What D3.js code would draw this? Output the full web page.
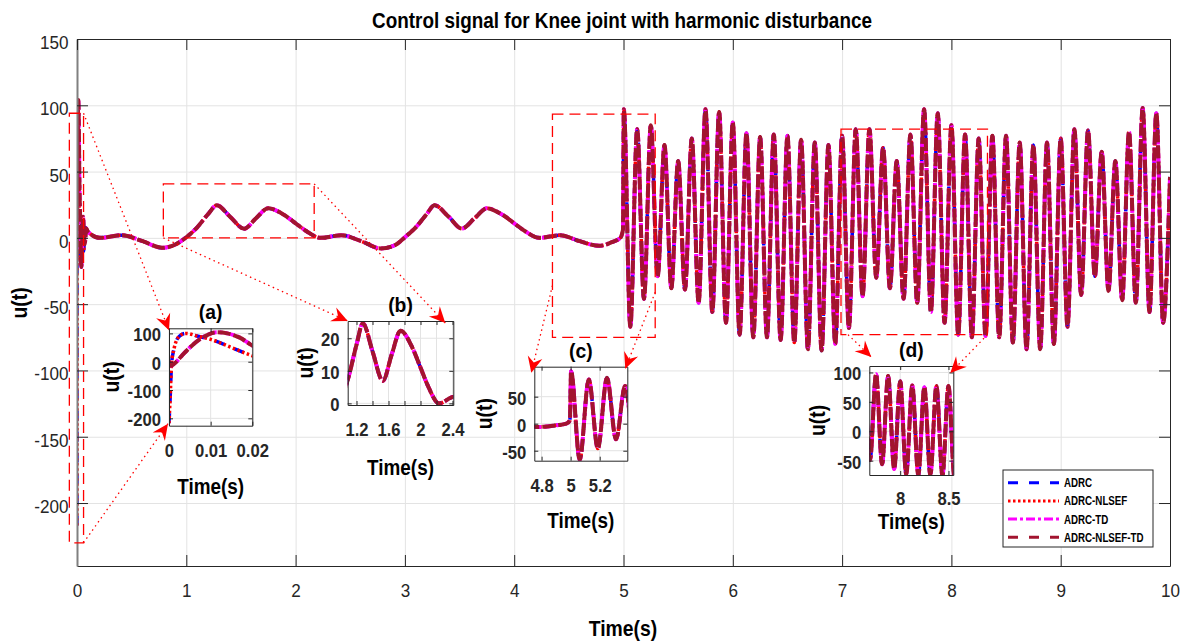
<!DOCTYPE html>
<html>
<head>
<meta charset="utf-8">
<script src="https://cdn.jsdelivr.net/npm/d3@7"></script>
<style>
  body { margin: 0; background: #fff; }
  svg { display: block; font-family: "Liberation Sans", Arial, Helvetica, sans-serif; }
</style>
</head>
<body>
<svg id="chart" width="1183" height="644"></svg>
<script>
// ---------- values ----------
const seriesNames = ["ADRC", "ADRC-NLSEF", "ADRC-TD", "ADRC-NLSEF-TD"];

// start-up transient, ADRC and ADRC-NLSEF (the two overlap)
const tStartA = [0, 0.0003, 0.0006, 0.0012, 0.0025, 0.004, 0.007, 0.01, 0.0155, 0.02, 0.03, 0.045, 0.06, 0.075, 0.1];
const uStartA = [-217, -120, -10, 45, 90, 100, 90, 79, 47, 21, -18, 15, -10, 8, 4.7];

// start-up transient, ADRC-TD and ADRC-NLSEF-TD
const tStartTD = [0, 0.0005, 0.0012, 0.003, 0.005, 0.008, 0.0115, 0.014, 0.017, 0.02, 0.03, 0.04, 0.055, 0.07, 0.085, 0.1];
const uStartTD = [3, -14, -8, 20, 50, 85, 104, 100, 85, 57, 10, -22, 16, -5, 7, 4.7];

// slow part, shared by all four controllers
const tSlow = [0.21, 0.41, 0.6, 0.78, 0.9, 1.0, 1.1, 1.2, 1.28, 1.4, 1.53, 1.64, 1.75, 1.9, 2.0, 2.1, 2.23,
               2.42, 2.6, 2.78, 2.92, 3.0, 3.1, 3.2, 3.27, 3.4, 3.52, 3.64, 3.75, 3.9, 4.0, 4.1, 4.23,
               4.42, 4.6, 4.78, 4.9, 4.97, 4.995];
const uSlow = [0, 2, -2.5, -7.5, -5, 0.5, 8, 18, 24.6, 16, 6.9, 15, 22.3, 17, 11, 5, 0,
               2, -2.5, -8, -5, 0.5, 8, 18, 24.6, 16, 7, 15, 22.3, 17, 11, 5, 0,
               2, -2.5, -6, -3, 0, 6];

// fast oscillation after t = 5 s (peaks and troughs)
const tFast = [5.003, 5.0625, 5.125, 5.1875, 5.25, 5.3125, 5.375, 5.4375, 5.5, 5.5625, 5.625, 5.6875, 5.75, 5.8125, 5.875, 5.9375, 6.0,
               6.0625, 6.125, 6.1875, 6.25, 6.3125, 6.375, 6.4375, 6.5, 6.5625, 6.625, 6.6875, 6.75, 6.8125, 6.875, 6.9375, 7.0,
               7.0625, 7.125, 7.1875, 7.25, 7.3125, 7.375, 7.4375, 7.5, 7.5625, 7.625, 7.6875, 7.75, 7.8125, 7.875, 7.9375, 8.0,
               8.0625, 8.125, 8.1875, 8.25, 8.3125, 8.375, 8.4375, 8.5, 8.5625, 8.625, 8.6875, 8.75, 8.8125, 8.875, 8.9375, 9.0,
               9.0625, 9.125, 9.1875, 9.25, 9.3125, 9.375, 9.4375, 9.5, 9.5625, 9.625, 9.6875, 9.75, 9.8125, 9.875, 9.9375, 10.0];
const uFast = [97, -67, 82, -46, 85, -29, 70, -38, 58, -39, 75, -49, 97, -56, 95, -64, 87,
               -73, 79, -75, 76, -75, 78, -77, 77, -79, 74, -84, 72, -85, 70, -80, 77,
               -68, 82, -44, 82, -30, 68, -38, 58, -46, 78, -49, 97, -56, 94, -64, 85,
               -73, 78, -75, 75, -74, 77, -75, 77, -79, 72, -84, 70, -84, 72, -80, 75,
               -67, 82, -43, 81, -29, 65, -40, 58, -47, 80, -49, 98, -56, 94, -64, 46];

// axis ticks
const xTicks = [0, 1, 2, 3, 4, 5, 6, 7, 8, 9, 10];
const yTicks = [-200, -150, -100, -50, 0, 50, 100, 150];
const ticksAx = [0, 0.01, 0.02], ticksAy = [-200, -100, 0, 100];
const ticksBx = [1.2, 1.4, 1.6, 1.8, 2, 2.2, 2.4], labelsBx = [1.2, 1.6, 2, 2.4], ticksBy = [0, 10, 20];
const ticksCx = [4.8, 5, 5.2], ticksCy = [-50, 0, 50];
const ticksDx = [8, 8.5], ticksDy = [-50, 0, 50, 100];

// zoom boxes drawn on the main axes [t0, t1, u0, u1]
const zoomBoxA = [-0.07, 0.06, -230, 94];
const zoomBoxB = [0.79, 2.17, 0, 40.7];
const zoomBoxC = [4.35, 5.29, -75, 93.4];
const zoomBoxD = [6.99, 8.33, -73, 82];

// ---------- build series ----------
const famA = d3.zip([...tStartA, ...tSlow, ...tFast], [...uStartA, ...uSlow, ...uFast]);
const famTD = d3.zip([...tStartTD, ...tSlow, ...tFast], [...uStartTD, ...uSlow, ...uFast]);
const seriesData = [famA, famA, famTD, famTD];
const seriesStyle = [
    {color: "#0000ff", dash: "10,11", w: 3.5},
    {color: "#ff0000", dash: "2.5,2.5", w: 3.5},
    {color: "#ff00ff", dash: "9,3,3,3", w: 4},
    {color: "#a2142f", dash: "13,3", w: 4}
];

const svg = d3.select("#chart");
const W = 1183, H = 644;
const margin = {top: 39, right: 13, bottom: 78, left: 77};
const x = d3.scaleLinear().domain([0, 10]).range([margin.left, W - margin.right]);
const y = d3.scaleLinear().domain([-247.5, 150]).range([H - margin.bottom, margin.top]);
const AX = "#262626";

function addText(g, str, px, py, o) {
    return g.append("text")
        .attr("transform", `translate(${px},${py})` + (o.rotate ? ` rotate(${o.rotate})` : "") + ` scale(${o.sx || 1},1)`)
        .attr("text-anchor", o.anchor || "middle")
        .style("font-size", o.size + "px")
        .style("font-weight", o.bold ? "bold" : "normal")
        .attr("fill", o.fill || "#000")
        .text(str);
}

function drawCurves(g, sx, sy, clipId) {
    const line = d3.line().x(d => sx(d[0])).y(d => sy(d[1])).curve(d3.curveMonotoneX);
    g.append("g")
        .attr("clip-path", `url(#${clipId})`)
        .selectAll("path")
        .data(seriesData)
        .join("path")
        .attr("fill", "none")
        .attr("stroke", (d, i) => seriesStyle[i].color)
        .attr("stroke-width", (d, i) => seriesStyle[i].w)
        .attr("stroke-dasharray", (d, i) => seriesStyle[i].dash)
        .attr("d", line);
}

const defs = svg.append("defs");
defs.append("clipPath").attr("id", "clipMain")
    .append("rect")
    .attr("x", x(0)).attr("y", y(150))
    .attr("width", x(10) - x(0)).attr("height", y(-247.5) - y(150));

defs.append("marker")
    .attr("id", "arrow")
    .attr("viewBox", "-18 -9 20 18")
    .attr("refX", 0).attr("refY", 0)
    .attr("markerWidth", 20).attr("markerHeight", 18)
    .attr("markerUnits", "userSpaceOnUse")
    .attr("orient", "auto")
    .append("path")
    .attr("d", "M0,0 L-16,-7.5 L-10.5,0 L-16,7.5 Z")
    .attr("fill", "#ff0000");

// ---------- main axes ----------
const plotH = y.range()[0] - y.range()[1];
const plotW = x.range()[1] - x.range()[0];

svg.append("g")
    .attr("transform", `translate(0,${y.range()[0]})`)
    .call(d3.axisBottom(x).tickValues(xTicks).tickSize(-plotH).tickFormat(""))
    .call(g => g.select(".domain").remove())
    .selectAll("line").attr("stroke", "#e3e3e3");

svg.append("g")
    .attr("transform", `translate(${x.range()[0]},0)`)
    .call(d3.axisLeft(y).tickValues(yTicks).tickSize(-plotW).tickFormat(""))
    .call(g => g.select(".domain").remove())
    .selectAll("line").attr("stroke", "#e3e3e3");

drawCurves(svg, x, y, "clipMain");

const bottomAxis = svg.append("g")
    .attr("transform", `translate(0,${y.range()[0]})`)
    .call(d3.axisBottom(x).tickValues(xTicks).tickSize(-11).tickSizeOuter(0).tickPadding(18).tickFormat(d => String(d)));
const leftAxis = svg.append("g")
    .attr("transform", `translate(${x.range()[0]},0)`)
    .call(d3.axisLeft(y).tickValues(yTicks).tickSize(-11).tickSizeOuter(0).tickPadding(9.5).tickFormat(d => String(d)));
svg.append("g")
    .attr("transform", `translate(0,${y.range()[1]})`)
    .call(d3.axisTop(x).tickValues(xTicks).tickSize(-11).tickSizeOuter(0).tickFormat(""));
svg.append("g")
    .attr("transform", `translate(${x.range()[1]},0)`)
    .call(d3.axisRight(y).tickValues(yTicks).tickSize(-11).tickSizeOuter(0).tickFormat(""));

svg.selectAll(".tick line").filter(function () { return d3.select(this).attr("stroke") !== "#e3e3e3"; })
    .attr("stroke", AX);
svg.selectAll(".domain").attr("stroke", AX);
leftAxis.select(".domain").attr("stroke", "#808080").attr("stroke-width", 2);

[bottomAxis, leftAxis].forEach(a => a.selectAll("text")
    .attr("fill", AX)
    .attr("transform", "scale(0.9,1)")
    .style("font-size", "19px")
    .style("font-family", "'Liberation Sans', Arial, sans-serif"));
leftAxis.selectAll("text").attr("dy", "0.5em");

// ---------- zoom rectangles ----------
const zoomBoxes = [zoomBoxA, zoomBoxB, zoomBoxC, zoomBoxD];
svg.append("g")
    .selectAll("rect")
    .data(zoomBoxes)
    .join("rect")
    .attr("x", d => x(d[0]))
    .attr("y", d => y(d[3]))
    .attr("width", d => x(d[1]) - x(d[0]))
    .attr("height", d => y(d[2]) - y(d[3]))
    .attr("fill", "none")
    .attr("stroke", "#ff0000")
    .attr("stroke-width", 1.3)
    .attr("stroke-dasharray", "11,6");

// ---------- insets ----------
const insets = [
    {key: "a", box: [169, 328.3, 252.3, 425.7], xd: [0, 0.02], yd: [-226, 118],
        xt: ticksAx, xl: ticksAx, yt: ticksAy, ylab: -50, xtY: 31, xlabY: 68},
    {key: "b", box: [347.7, 321, 453.3, 405], xd: [1.09, 2.41], yd: [-0.5, 25.3],
        xt: ticksBx, xl: labelsBx, yt: ticksBy, ylab: -35, xtY: 31, xlabY: 70},
    {key: "c", box: [534.3, 366.7, 627.3, 460.7], xd: [4.75, 5.39], yd: [-68.5, 105.5],
        xt: ticksCx, xl: ticksCx, yt: ticksCy, ylab: -42, xtY: 31, xlabY: 67},
    {key: "d", box: [869.3, 366, 953.3, 475], xd: [7.68, 8.55], yd: [-74.4, 111],
        xt: ticksDx, xl: ticksDx, yt: ticksDy, ylab: -44, xtY: 30, xlabY: 54}
];

insets.forEach(c => {
    const [bx0, by0, bx1, by1] = c.box;
    const sx = d3.scaleLinear().domain(c.xd).range([bx0, bx1]);
    const sy = d3.scaleLinear().domain(c.yd).range([by1, by0]);
    const g = svg.append("g").attr("class", "inset-" + c.key);
    const clipId = "clip-" + c.key;
    defs.append("clipPath").attr("id", clipId)
        .append("rect").attr("x", bx0).attr("y", by0).attr("width", bx1 - bx0).attr("height", by1 - by0);

    g.append("rect").attr("x", bx0).attr("y", by0).attr("width", bx1 - bx0).attr("height", by1 - by0)
        .attr("fill", "#fff");

    g.append("g").selectAll("line").data(c.xt).join("line")
        .attr("x1", d => sx(d)).attr("x2", d => sx(d)).attr("y1", by0).attr("y2", by1)
        .attr("stroke", "#e3e3e3");
    g.append("g").selectAll("line").data(c.yt).join("line")
        .attr("x1", bx0).attr("x2", bx1).attr("y1", d => sy(d)).attr("y2", d => sy(d))
        .attr("stroke", "#e3e3e3");

    drawCurves(g, sx, sy, clipId);

    const fmtX = d => c.xl.some(v => Math.abs(v - d) < 1e-9) ? String(d) : "";
    const ab = g.append("g").attr("transform", `translate(0,${by1})`)
        .call(d3.axisBottom(sx).tickValues(c.xt).tickSize(-4).tickSizeOuter(0).tickPadding(c.xtY - 13).tickFormat(fmtX));
    const al = g.append("g").attr("transform", `translate(${bx0},0)`)
        .call(d3.axisLeft(sy).tickValues(c.yt).tickSize(-4).tickSizeOuter(0).tickPadding(9).tickFormat(d => String(d)));
    g.append("g").attr("transform", `translate(0,${by0})`)
        .call(d3.axisTop(sx).tickValues(c.xt).tickSize(-4).tickSizeOuter(0).tickFormat(""));
    g.append("g").attr("transform", `translate(${bx1},0)`)
        .call(d3.axisRight(sy).tickValues(c.yt).tickSize(-4).tickSizeOuter(0).tickFormat(""));
    g.selectAll(".domain").attr("stroke", AX);
    g.selectAll(".tick line").attr("stroke", AX);
    [ab, al].forEach(a => a.selectAll("text")
        .attr("fill", AX)
        .attr("transform", "scale(0.9,1)")
        .style("font-size", "18.5px")
        .style("font-weight", "bold")
        .style("font-family", "'Liberation Sans', Arial, sans-serif"));
    al.selectAll("text").attr("dy", "0.4em");

    const cx = (bx0 + bx1) / 2;
    addText(g, `(${c.key})`, cx, by0 - 9, {size: 21, bold: true, sx: 0.92});
    addText(g, "Time(s)", cx, by1 + c.xlabY, {size: 22, bold: true, sx: 0.86});
    addText(g, "u(t)", bx0 + c.ylab, (by0 + by1) / 2, {size: 22, bold: true, sx: 0.88, rotate: -90});
});

// ---------- connectors with arrows ----------
const ins = Object.fromEntries(insets.map(c => [c.key, c.box]));
const connectors = [
    [[x(zoomBoxA[1]), y(zoomBoxA[3])], [ins.a[0], ins.a[1] + 2]],
    [[x(zoomBoxA[1]), y(zoomBoxA[2])], [ins.a[0] - 1, ins.a[3] - 2]],
    [[x(zoomBoxB[0]), y(zoomBoxB[2])], [ins.b[0], ins.b[1]]],
    [[x(zoomBoxB[1]), y(zoomBoxB[3])], [ins.b[2] - 8, ins.b[1] + 2]],
    [[x(zoomBoxC[0]), y(-36)], [ins.c[0] - 3, ins.c[1] + 6]],
    [[x(zoomBoxC[1]), y(-41)], [ins.c[2] - 2, ins.c[1] + 2]],
    [[x(zoomBoxD[0]) + 7, y(zoomBoxD[2])], [ins.d[0] + 2, ins.d[1] - 9]],
    [[x(zoomBoxD[1]), y(zoomBoxD[2])], [ins.d[2] - 3, ins.d[1] + 7]]
];
svg.append("g")
    .selectAll("line")
    .data(connectors)
    .join("line")
    .attr("x1", d => d[0][0]).attr("y1", d => d[0][1])
    .attr("x2", d => d[1][0]).attr("y2", d => d[1][1])
    .attr("stroke", "#ff0000")
    .attr("stroke-width", 1.3)
    .attr("stroke-dasharray", "1.5,3.5")
    .attr("marker-end", "url(#arrow)");

// ---------- legend ----------
const lg = svg.append("g").attr("transform", "translate(1003,470)");
lg.append("rect").attr("width", 150).attr("height", 77).attr("fill", "#fff").attr("stroke", AX);
const rows = lg.selectAll("g.row").data(seriesNames).join("g")
    .attr("class", "row")
    .attr("transform", (d, i) => `translate(0,${12.7 + i * 18.2})`);
rows.append("line")
    .attr("x1", 5).attr("x2", 56)
    .attr("stroke", (d, i) => seriesStyle[i].color)
    .attr("stroke-width", 3)
    .attr("stroke-dasharray", (d, i) => i === 3 ? "10,11" : seriesStyle[i].dash);
rows.each(function (d) {
    addText(d3.select(this), d, 61, 4.5, {size: 12.5, bold: true, anchor: "start", sx: 0.78});
});

// ---------- titles ----------
addText(svg, "Control signal for Knee joint with harmonic disturbance", 622, 28, {size: 22, bold: true, sx: 0.86});
addText(svg, "Time(s)", 623, 636, {size: 22, bold: true, sx: 0.88});
addText(svg, "u(t)", 27, 303, {size: 22, bold: true, sx: 0.88, rotate: -90});
</script>
</body>
</html>
